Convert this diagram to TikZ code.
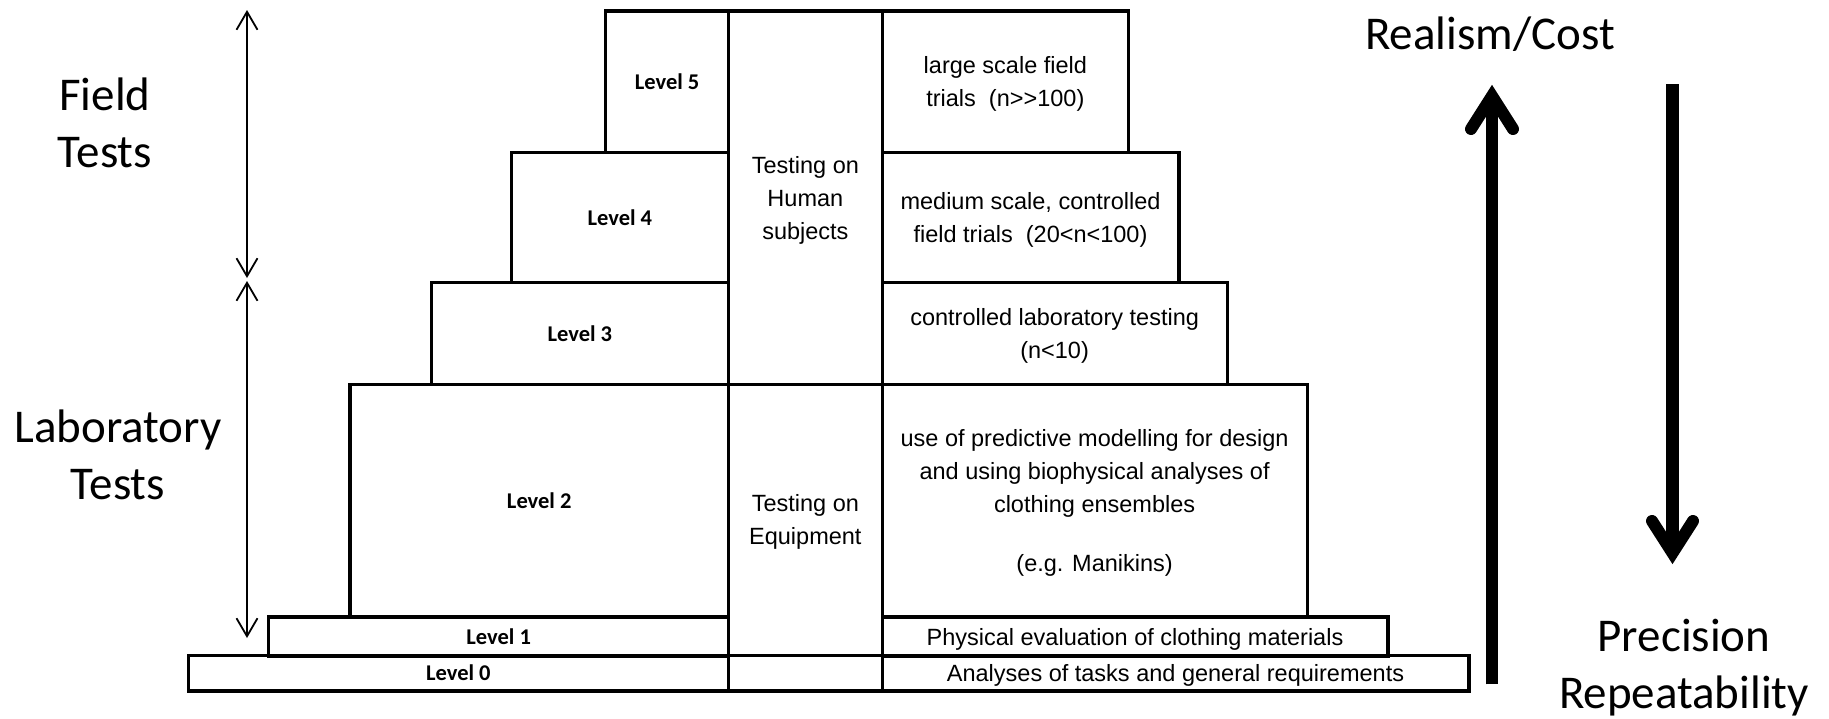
\documentclass[tikz,border=0pt]{standalone}
\usepackage{fontspec}
\setmainfont{Liberation Sans}
\newfontfamily\calfont{Carlito}
\usetikzlibrary{arrows.meta}
\newcommand\myTopStrut{\rule{0pt}{22pt}}
\begin{document}
\begin{tikzpicture}[x=1pt,y=-1pt,
  box/.style={draw, line width=3.2pt, inner sep=0pt, anchor=north west, align=center},
  lvl/.style={box, font=\calfont\bfseries\fontsize{22.5}{27}\selectfont},
  desc/.style={box, font=\fontsize{23.5}{33}\selectfont},
  big/.style={font=\calfont\fontsize{47}{57}\selectfont, align=center, inner sep=0pt},
  dbl/.style={line width=1.8pt, {Straight Barb[length=18pt,width=21pt]}-{Straight Barb[length=18pt,width=21pt]}},
  shaft/.style={line width=12.3pt},
  head/.style={line width=12pt, line cap=round, line join=miter}
]
\useasboundingbox (0,0) rectangle (1829,718);

% left column (levels)
\node[lvl, minimum width=123pt,   minimum height=141.7pt] (l5) at (604,9.3)    {Level 5};
\node[lvl, minimum width=217.5pt, minimum height=129.7pt] (l4) at (509.5,151)  {Level 4};
\node[lvl, minimum width=297.5pt, minimum height=102.3pt] (l3) at (429.5,280.7){Level 3};
\node[lvl, minimum width=378.7pt, minimum height=232.3pt] (l2) at (348.3,383)  {Level 2};
\node[lvl, minimum width=459.8pt, minimum height=39.7pt]  (l1) at (267.2,615.3){Level 1};
\node[lvl, minimum width=540.5pt, minimum height=35.8pt]  (l0) at (186.5,653.5){Level 0};

% middle column
\node[desc, minimum width=153.5pt, minimum height=373.7pt] (hum) at (727,9.3) {\myTopStrut Testing on\\Human\\subjects};
\node[desc, minimum width=153.5pt, minimum height=270.5pt] (equ) at (727,383) {\myTopStrut Testing on\\Equipment};
\node[desc, minimum width=153.5pt, minimum height=35.8pt]  (m0)  at (727,653.5) {};

% right column (descriptions)
\node[desc, minimum width=246.5pt, minimum height=141.7pt] (r5) at (880.5,9.3) {\myTopStrut large scale field\\trials\ \ (n>{}>100)};
\node[desc, minimum width=296.8pt, minimum height=129.7pt] (r4) at (880.5,151) {\myTopStrut medium scale, controlled\\field trials\ \ (20<n<100)};
\node[desc, minimum width=345pt,   minimum height=102.3pt] (r3) at (880.5,280.7) {\myTopStrut controlled laboratory testing\\(n<10)};
\node[desc, minimum width=425pt,   minimum height=232.3pt] (r2) at (880.5,383) {\myTopStrut use of predictive modelling for design\\and using biophysical analyses of\\clothing ensembles\\[26pt](e.g. Manikins)};
\node[desc, minimum width=505.8pt, minimum height=39.7pt]  (r1) at (880.5,615.3) {\myTopStrut Physical evaluation of clothing materials};
\node[desc, minimum width=586.8pt, minimum height=35.8pt]  (r0) at (880.5,653.5) {\myTopStrut Analyses of tasks and general requirements};

% big labels
\node[big] (field) at (105,123) {Field\\Tests};
\node[big] (lab) at (118,454.5) {Laboratory\\Tests};
\node[big, anchor=base] (real) at (1490,49) {Realism/Cost};
\node[big] (prec) at (1684,668) {Precision\\Repeatability};

% thin double arrows
\coordinate (ft) at (247,10);
\coordinate (fb) at (247,278);
\coordinate (lt) at (247,281);
\coordinate (lb) at (247,638);
\draw[dbl] (ft) -- (fb);
\draw[dbl] (lt) -- (lb);

% thick up arrow
\coordinate (ub) at (1492,684.3);
\coordinate (uv) at (1492,96);
\coordinate (ul) at (1471,129);
\coordinate (ur) at (1513,129);
\draw[shaft] (ub) -- (uv);
\draw[head] (ul) -- (uv) -- (ur);

% thick down arrow
\coordinate (dt) at (1672.5,84.3);
\coordinate (dv) at (1672.5,553);
\coordinate (dl) at (1652,521);
\coordinate (dr) at (1693,521);
\draw[shaft] (dt) -- (dv);
\draw[head] (dl) -- (dv) -- (dr);
\end{tikzpicture}
\end{document}
